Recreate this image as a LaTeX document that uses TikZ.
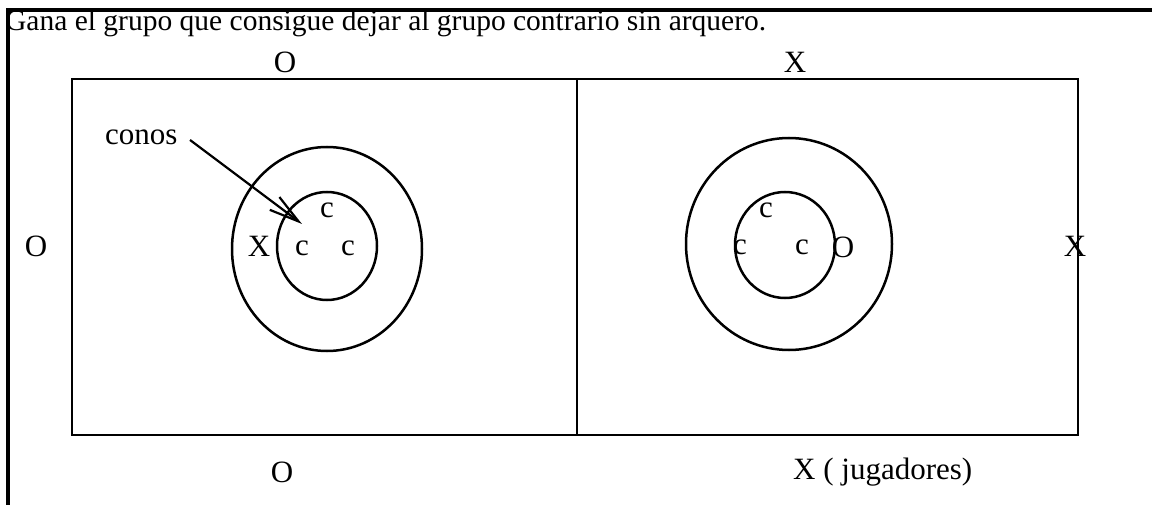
\documentclass[tikz,border=0pt]{standalone}
\usepackage{fontspec}
\setmainfont{Liberation Serif}
\usetikzlibrary{arrows.meta}
\begin{document}
\begin{tikzpicture}[x=1pt,y=-1pt,
  lbl/.style={inner sep=0pt,font=\fontsize{31}{35}\selectfont},
  thin line/.style={line width=2.5pt},
  frame line/.style={line width=4.5pt}]
\useasboundingbox (0,0) rectangle (1152,505);
% title
\node[lbl,anchor=base west,font=\fontsize{29.5}{34}\selectfont] (title) at (5,31) {Gana el grupo que consigue dejar al grupo contrario sin arquero.};
% frame
\coordinate (fa) at (8,505);
\coordinate (fb) at (8,10);
\coordinate (fc) at (1152,10);
\draw[frame line] (fa) -- (fb) -- (fc);
% field
\draw[thin line] (72,79) rectangle (1078,435);
\draw[thin line] (577,79) -- (577,435);
% circles
\draw[thin line] (327,249) ellipse [x radius=95, y radius=102];
\draw[thin line] (327,246) ellipse [x radius=50, y radius=54];
\draw[thin line] (789,244) ellipse [x radius=103, y radius=106];
\draw[thin line] (785,245) ellipse [x radius=50, y radius=53];
% outer labels
\node[lbl] (otop) at (285,62) {O};
\node[lbl] (xtop) at (795,62) {X};
\node[lbl] (oleft) at (36,246) {O};
\node[lbl] (xright) at (1075,246) {X};
\node[lbl] (obot) at (282,472) {O};
\node[lbl,anchor=west] (xbot) at (793,472) {X ( jugadores)};
% left circle labels
\node[lbl] (xl) at (259,246) {X};
\node[lbl] (c1) at (327,210) {c};
\node[lbl] (c2) at (302,248) {c};
\node[lbl] (c3) at (348,248) {c};
\node[lbl,anchor=base west] (conos) at (105,145) {conos};
\coordinate (start) at (190,140);
\coordinate (tip) at (302,224);
\draw[line width=2.2pt,-{Straight Barb[length=30pt,width=16pt,line width=2.2pt]}] (start) -- (tip);
% right circle labels
\node[lbl] (c4) at (766,210) {c};
\node[lbl] (c5) at (740,247) {c};
\node[lbl] (c6) at (802,247) {c};
\node[lbl] (or) at (843,247) {O};
\end{tikzpicture}
\end{document}
